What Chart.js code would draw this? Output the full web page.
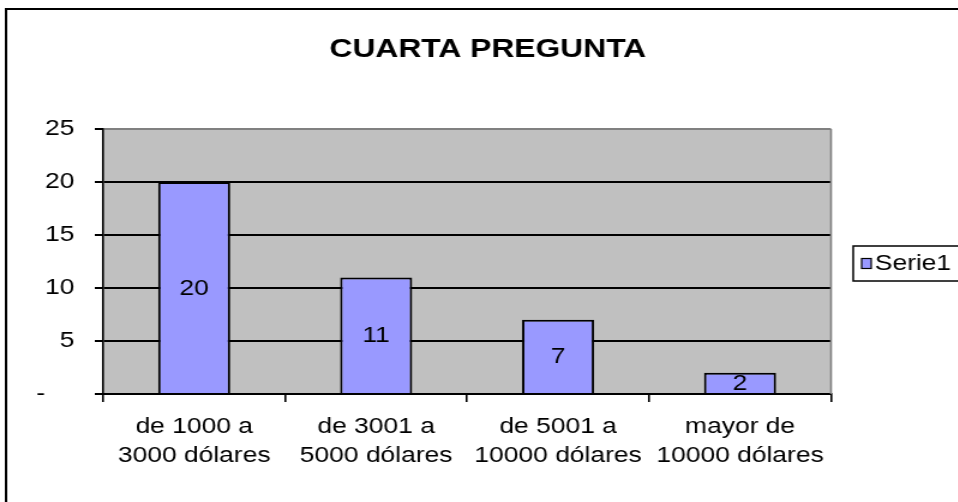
<!DOCTYPE html>
<html>
<head>
<meta charset="utf-8">
<script src="https://cdn.jsdelivr.net/npm/chart.js@4.4.1/dist/chart.umd.min.js"></script>
<style>
    html, body { margin: 0; padding: 0; background: #fff; overflow: hidden; }
    /* the original sheet chart is stretched sideways, so stretch ours the same way */
    #wrap { width: 798px; height: 502px; transform: scaleX(1.2); transform-origin: 0 0; }
</style>
</head>
<body>
<div id="wrap"><canvas id="chart"></canvas></div>
<script>
const chartTitle = 'CUARTA PREGUNTA';
const categories = [
    ['de 1000 a', '3000 dólares'],
    ['de 3001 a', '5000 dólares'],
    ['de 5001 a', '10000 dólares'],
    ['mayor de', '10000 dólares']
];
const seriesName = 'Serie1';
const seriesValues = [20, 11, 7, 2];
const yTicks = [0, 5, 10, 15, 20, 25];

const FONT = '"Liberation Sans", Arial, sans-serif';
const BAR_COLOR = '#9999ff';

const excelLook = {
    id: 'excelLook',
    beforeDraw(chart) {
        const { ctx, chartArea: a } = chart;
        ctx.save();
        ctx.fillStyle = '#fff';
        ctx.fillRect(0, 0, chart.width, chart.height);
        // outer frame (right and bottom run off the picture)
        ctx.strokeStyle = '#000';
        ctx.lineWidth = 2;
        ctx.strokeRect(5, 9, chart.width + 20, chart.height + 20);
        // grey plot area
        ctx.fillStyle = '#c0c0c0';
        ctx.fillRect(a.left, a.top, a.right - a.left, a.bottom - a.top);
        ctx.restore();
    },
    beforeDatasetsDraw(chart) {
        const { ctx, chartArea: a } = chart;
        ctx.save();
        ctx.strokeStyle = '#808080';
        ctx.lineWidth = 1.6;
        ctx.beginPath();
        ctx.moveTo(a.right, a.top);
        ctx.lineTo(a.right, a.bottom);
        ctx.stroke();
        ctx.restore();
    },
    afterDatasetsDraw(chart) {
        const { ctx } = chart;
        const meta = chart.getDatasetMeta(0);
        ctx.save();
        ctx.fillStyle = '#000';
        ctx.font = '22px ' + FONT;
        ctx.textAlign = 'center';
        ctx.textBaseline = 'middle';
        meta.data.forEach((bar, i) => {
            const { x, y, base } = bar.getProps(['x', 'y', 'base'], true);
            ctx.fillText(String(chart.data.datasets[0].data[i]), x, (y + base) / 2 + 1);
        });
        ctx.restore();
    },
    afterDraw(chart) {
        const { ctx } = chart;
        const ds = chart.data.datasets[0];
        ctx.save();
        // title
        ctx.fillStyle = '#000';
        ctx.font = 'bold 26.5px ' + FONT;
        ctx.textAlign = 'center';
        ctx.textBaseline = 'middle';
        ctx.fillText(chartTitle, 406.5, 50);
        // legend box
        ctx.strokeStyle = '#000';
        ctx.lineWidth = 1.5;
        ctx.fillStyle = '#fff';
        ctx.fillRect(711, 246, 120, 35);
        ctx.strokeRect(711, 246, 120, 35);
        ctx.fillStyle = ds.backgroundColor;
        ctx.fillRect(718, 258.5, 8, 10);
        ctx.lineWidth = 1.2;
        ctx.strokeRect(718, 258.5, 8, 10);
        ctx.fillStyle = '#000';
        ctx.font = '22px ' + FONT;
        ctx.textAlign = 'left';
        ctx.fillText(ds.label, 729, 264);
        ctx.restore();
    }
};

const ctx = document.getElementById('chart').getContext('2d');
new Chart(ctx, {
    type: 'bar',
    data: {
        labels: categories,
        datasets: [{
            label: seriesName,
            data: seriesValues,
            backgroundColor: BAR_COLOR,
            borderColor: '#000',
            borderWidth: 2,
            barPercentage: 0.396,
            categoryPercentage: 1
        }]
    },
    options: {
        responsive: true,
        maintainAspectRatio: false,
        animation: false,
        events: [],
        devicePixelRatio: 1,
        layout: { padding: { top: 129, right: 105.5, bottom: 0, left: 0 } },
        plugins: {
            legend: { display: false },
            title: { display: false },
            tooltip: { enabled: false }
        },
        scales: {
            x: {
                afterFit: (scale) => { scale.height = 108; },
                grid: {
                    display: true,
                    drawOnChartArea: false,
                    offset: true,
                    color: '#000',
                    lineWidth: 1.6,
                    tickLength: 8
                },
                border: { display: true, color: '#000', width: 2 },
                ticks: {
                    color: '#000',
                    padding: 11,
                    maxRotation: 0,
                    autoSkip: false,
                    font: { family: FONT, size: 22, lineHeight: 1.3 }
                }
            },
            y: {
                min: yTicks[0],
                max: yTicks[yTicks.length - 1],
                afterFit: (scale) => { scale.width = 86; },
                grid: {
                    color: (c) => c.tick && c.tick.value === yTicks[yTicks.length - 1] ? '#808080' : '#000',
                    tickColor: '#000',
                    lineWidth: 2,
                    tickLength: 7
                },
                border: { display: true, color: '#000', width: 1.6 },
                ticks: {
                    stepSize: yTicks[1] - yTicks[0],
                    color: '#000',
                    padding: 17,
                    font: { family: FONT, size: 22 },
                    callback: (value) => value === 0 ? '-    ' : value
                }
            }
        }
    },
    plugins: [excelLook]
});
</script>
</body>
</html>
